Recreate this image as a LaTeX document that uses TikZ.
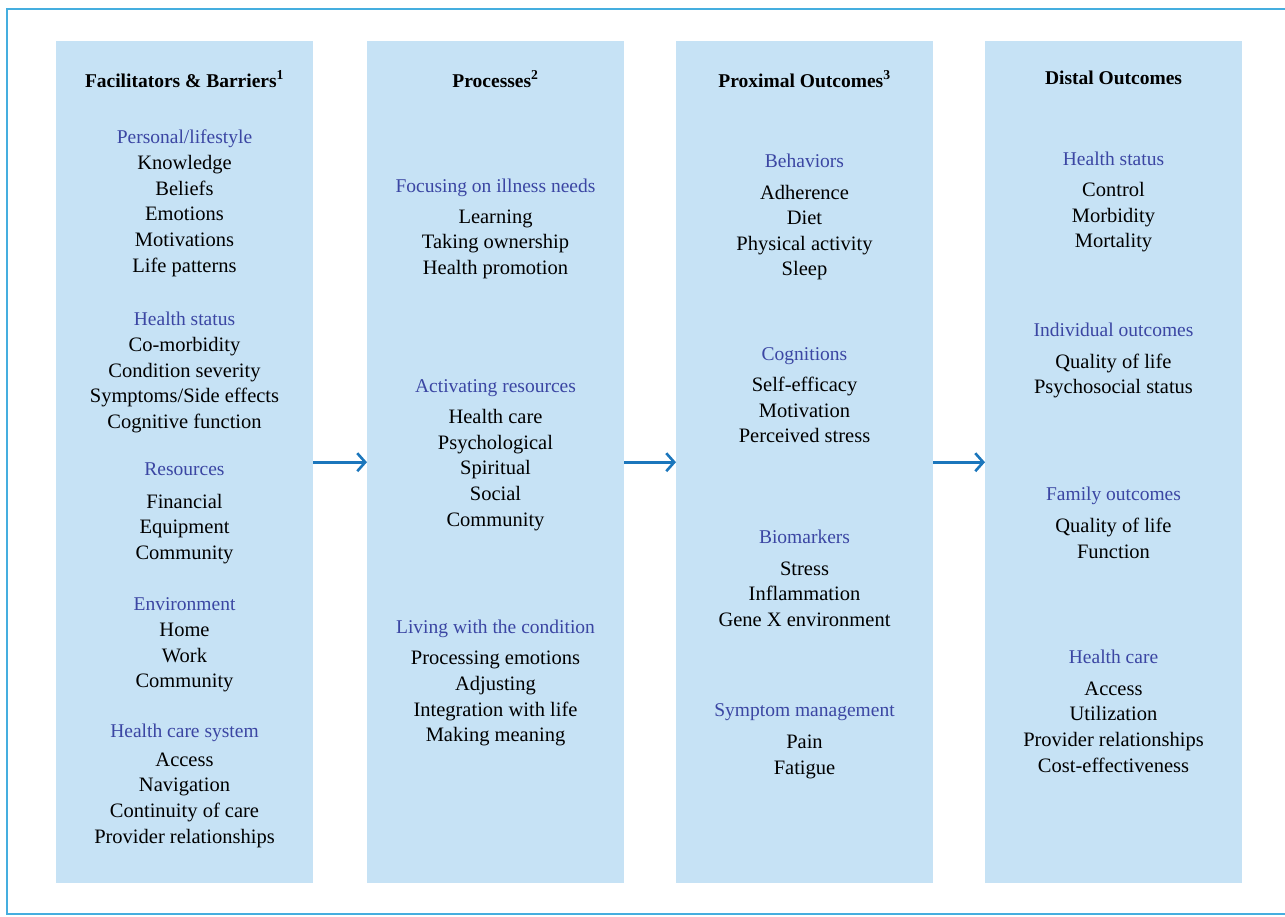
\documentclass[tikz,border=0pt]{standalone}
\usepackage{fontspec}
\setmainfont{Liberation Serif}
\usetikzlibrary{arrows.meta}
\definecolor{boxblue}{HTML}{C6E2F5}
\definecolor{headblue}{HTML}{3B46A3}
\definecolor{arrowblue}{HTML}{1B76BC}
\definecolor{framecol}{HTML}{45AEDF}
\begin{document}
\begin{tikzpicture}[x=1pt,y=-1pt,
  col/.style={fill=boxblue, draw=none, minimum width=257, minimum height=842, inner sep=0, anchor=north west},
  ttl/.style={font=\bfseries\fontsize{19.5}{21}\selectfont, text=black, text height=13.5, text depth=4.5, inner sep=0, yshift=-2.5pt},
  hd/.style={font=\fontsize{19.5}{22}\selectfont, text=headblue, text height=14, text depth=4.5, inner sep=0, yshift=-3pt},
  it/.style={font=\fontsize{20.5}{22}\selectfont, text=black, text height=14, text depth=4.5, inner sep=0, yshift=-3pt},
  arr/.style={draw=arrowblue, line width=2.6, -{Straight Barb[length=8,width=18]}}]
\useasboundingbox (0,0) rectangle (1285,916);
\draw[framecol, line width=2] (6.5,8.5) rectangle (1300,914);
% columns
\node[col] (c1) at (56,41) {};
\node[col] (c2) at (367,41) {};
\node[col] (c3) at (676,41) {};
\node[col] (c4) at (985,41) {};
% arrows
\draw[arr] (c1.east) -- (c2.west);
\draw[arr] (c2.east) -- (c3.west);
\draw[arr] (c3.east) -- (c4.west);
% column 1
\node[ttl] (a0) at (184.5,80) {Facilitators \& Barriers\textsuperscript{1}};
\node[hd] (a1) at (184.5,136) {Personal/lifestyle};
\node[it] (a2) at (184.5,162) {Knowledge};
\node[it] (a3) at (184.5,188) {Beliefs};
\node[it] (a4) at (184.5,213) {Emotions};
\node[it] (a5) at (184.5,239) {Motivations};
\node[it] (a6) at (184.5,265) {Life patterns};
\node[hd] (a7) at (184.5,318) {Health status};
\node[it] (a8) at (184.5,344) {Co-morbidity};
\node[it] (a9) at (184.5,370) {Condition severity};
\node[it] (a10) at (184.5,395) {Symptoms/Side effects};
\node[it] (a11) at (184.5,421) {Cognitive function};
\node[hd] (a12) at (184.5,468) {Resources};
\node[it] (a13) at (184.5,501) {Financial};
\node[it] (a14) at (184.5,526) {Equipment};
\node[it] (a15) at (184.5,552) {Community};
\node[hd] (a16) at (184.5,603) {Environment};
\node[it] (a17) at (184.5,629) {Home};
\node[it] (a18) at (184.5,655) {Work};
\node[it] (a19) at (184.5,680) {Community};
\node[hd] (a20) at (184.5,730) {Health care system};
\node[it] (a21) at (184.5,759) {Access};
\node[it] (a22) at (184.5,784) {Navigation};
\node[it] (a23) at (184.5,810) {Continuity of care};
\node[it] (a24) at (184.5,836) {Provider relationships};
% column 2
\node[ttl] (b0) at (495.5,80) {Processes\textsuperscript{2}};
\node[hd] (b1) at (495.5,185) {Focusing on illness needs};
\node[it] (b2) at (495.5,216) {Learning};
\node[it] (b3) at (495.5,241) {Taking ownership};
\node[it] (b4) at (495.5,267) {Health promotion};
\node[hd] (b5) at (495.5,385) {Activating resources};
\node[it] (b6) at (495.5,416) {Health care};
\node[it] (b7) at (495.5,442) {Psychological};
\node[it] (b8) at (495.5,467) {Spiritual};
\node[it] (b9) at (495.5,493) {Social};
\node[it] (b10) at (495.5,519) {Community};
\node[hd] (b11) at (495.5,626) {Living with the condition};
\node[it] (b12) at (495.5,657) {Processing emotions};
\node[it] (b13) at (495.5,683) {Adjusting};
\node[it] (b14) at (495.5,709) {Integration with life};
\node[it] (b15) at (495.5,734) {Making meaning};
% column 3
\node[ttl] (d0) at (804.5,80) {Proximal Outcomes\textsuperscript{3}};
\node[hd] (d1) at (804.5,160) {Behaviors};
\node[it] (d2) at (804.5,192) {Adherence};
\node[it] (d3) at (804.5,217) {Diet};
\node[it] (d4) at (804.5,243) {Physical activity};
\node[it] (d5) at (804.5,268) {Sleep};
\node[hd] (d6) at (804.5,353) {Cognitions};
\node[it] (d7) at (804.5,384) {Self-efficacy};
\node[it] (d8) at (804.5,410) {Motivation};
\node[it] (d9) at (804.5,435) {Perceived stress};
\node[hd] (d10) at (804.5,536) {Biomarkers};
\node[it] (d11) at (804.5,568) {Stress};
\node[it] (d12) at (804.5,593) {Inflammation};
\node[it] (d13) at (804.5,619) {Gene X environment};
\node[hd] (d14) at (804.5,709) {Symptom management};
\node[it] (d15) at (804.5,741) {Pain};
\node[it] (d16) at (804.5,767) {Fatigue};
% column 4
\node[ttl] (e0) at (1113.5,77) {Distal Outcomes};
\node[hd] (e1) at (1113.5,158) {Health status};
\node[it] (e2) at (1113.5,189) {Control};
\node[it] (e3) at (1113.5,215) {Morbidity};
\node[it] (e4) at (1113.5,240) {Mortality};
\node[hd] (e5) at (1113.5,329) {Individual outcomes};
\node[it] (e6) at (1113.5,361) {Quality of life};
\node[it] (e7) at (1113.5,386) {Psychosocial status};
\node[hd] (e8) at (1113.5,493) {Family outcomes};
\node[it] (e9) at (1113.5,525) {Quality of life};
\node[it] (e10) at (1113.5,551) {Function};
\node[hd] (e11) at (1113.5,656) {Health care};
\node[it] (e12) at (1113.5,688) {Access};
\node[it] (e13) at (1113.5,713) {Utilization};
\node[it] (e14) at (1113.5,739) {Provider relationships};
\node[it] (e15) at (1113.5,765) {Cost-effectiveness};
\end{tikzpicture}
\end{document}
